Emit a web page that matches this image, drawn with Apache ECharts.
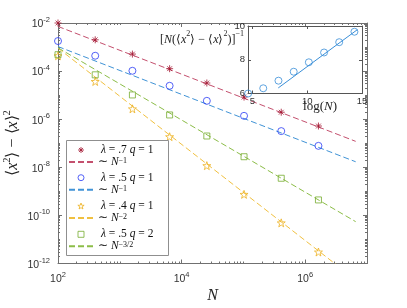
<!DOCTYPE html>
<html><head><meta charset="utf-8">
<script src="https://cdn.jsdelivr.net/npm/echarts@6/dist/echarts.min.js"></script>
<style>html,body{margin:0;padding:0;background:#fff}#c{width:407px;height:308px}</style>
</head><body><div id="c"></div>
<script>
// ---- data ----
const N = [100, 400, 1600, 6400, 25600, 102400, 409600, 1638400];
const varL07q1 = [1.0e-2, 2.0e-3, 5.1e-4, 1.26e-4, 3.2e-5, 8.3e-6, 1.95e-6, 5.2e-7];
const varL05q1 = [1.78e-3, 4.35e-4, 1.03e-4, 2.45e-5, 5.8e-6, 1.38e-6, 3.2e-7, 7.8e-8];
const varL04q1 = [4.35e-4, 3.7e-5, 2.7e-6, 1.87e-7, 1.17e-8, 7.5e-10, 4.9e-11, 3.0e-12];
const varL05q2 = [4.8e-4, 7.0e-5, 1.02e-5, 1.5e-6, 2.0e-7, 2.75e-8, 3.5e-9, 4.4e-10];
const fitN = [100, 6553600];
const fitL07q1 = [7.2e-3, 1.2e-7];
const fitL05q1 = [1.05e-3, 1.7e-8];
const fitL04q1 = [9.0e-4, 2.1e-13];
const fitL05q2 = [9.3e-4, 5.5e-11];
const insetLogN = [4.61, 5.99, 7.38, 8.77, 10.15, 11.54, 12.92, 14.31];
const insetInv = [6.0, 6.31, 6.76, 7.29, 7.85, 8.43, 9.04, 9.66];
const insetFitX = [7.36, 14.57];
const insetFitY = [6.33, 9.78];
const xTickExp = [2, 4, 6];
const yTickExp = [-12, -10, -8, -6, -4, -2];
const insetXTicks = [5, 10, 15];
const insetYTicks = [6, 8, 10];

// ---- styles ----
const AX = '#707070';
const IAX = '#555';
const SERIF = 'Liberation Serif';
const SANS = 'Liberation Sans';
const zip = (a, b) => a.map((v, i) => [v, b[i]]);

const tickRich = {
  b: {fontFamily: SANS, fontSize: 10.5, lineHeight: 14, verticalAlign: 'bottom', color: '#333'},
  s: {fontFamily: SANS, fontSize: 7.5, lineHeight: 8, verticalAlign: 'top', color: '#333'}
};
const expLabel = (list) => (v) => {
  const e = Math.round(Math.log10(v));
  return list.indexOf(e) >= 0 ? '{b|10}{s|' + e + '}' : '';
};
const minorX = [], minorY = [];
for (let d = 2; d <= 6; d++) { for (let k = (d % 2 ? 1 : 2); k <= 9; k++) minorX.push(Math.log10(k) + d); }
for (let d = -12; d <= -3; d++) { for (let k = (d % 2 ? 1 : 2); k <= 9; k++) minorY.push(Math.log10(k) + d); }

const legRich = {
  i: {fontFamily: SERIF, fontStyle: 'italic', fontSize: 11.5, lineHeight: 10, color: '#111'},
  r: {fontFamily: SERIF, fontSize: 11.5, lineHeight: 10, color: '#111'},
  p: {fontFamily: SERIF, fontSize: 11.5, lineHeight: 10, color: '#111', padding: [0, 0, 0, 3]},
  s: {fontFamily: SERIF, fontSize: 8, lineHeight: 5, verticalAlign: 'top', color: '#111'}
};
const legendText = {
  's1': '{p|}{i|λ}{r| = .7 }{i|q}{r| = 1}',
  'f1': '{r|∼ }{i|N}{s|−1}',
  's2': '{p|}{i|λ}{r| = .5 }{i|q}{r| = 1}',
  'f2': '{r|∼ }{i|N}{s|−1}',
  's3': '{p|}{i|λ}{r| = .4 }{i|q}{r| = 1}',
  'f3': '{r|∼ }{i|N}{s|−2}',
  's4': '{p|}{i|λ}{r| = .5 }{i|q}{r| = 2}',
  'f4': '{r|∼ }{i|N}{s|−3/2}'
};
const C = {
  s1: '#a2142f', f1: '#c4506e', s2: '#2a3cf5', f2: '#4093d6',
  s3: '#edb120', f3: '#f0c040', s4: '#77ac30', f4: '#8cbd48'
};
const mkLegend = (sName, fName, top) => ({
  orient: 'vertical', left: 68, top: top, padding: 0, itemGap: 0,
  itemWidth: 24, itemHeight: 6, selectedMode: false, z: 10,
  itemStyle: {borderWidth: 1},
  data: [
    {name: sName, itemStyle: {color: 'rgba(0,0,0,0)', borderColor: C[sName], borderWidth: 1}},
    {name: fName, itemStyle: {opacity: 0}}
  ],
  formatter: (n) => legendText[n],
  textStyle: {rich: legRich, lineHeight: 10}
});

const asterisk = 'path://M5,0L5,10M0,5L10,5M1.6,1.6L8.4,8.4M1.6,8.4L8.4,1.6';
const pentagram = 'path://M10,0L12.35,6.76L19.51,6.91L13.8,11.24L15.88,18.09L10,14L4.12,18.09L6.2,11.24L0.49,6.91L7.65,6.76Z';
const square = 'path://M0,0L10,0L10,10L0,10Z';

const scat = (name, data, symbol, size) => ({
  name, type: 'scatter', xAxisIndex: 0, yAxisIndex: 0, data: zip(N, data),
  symbol, symbolSize: size,
  itemStyle: {color: 'rgba(0,0,0,0)', borderColor: C[name], borderWidth: 1}, z: 4
});
const fit = (name, data) => ({
  name, type: 'line', xAxisIndex: 0, yAxisIndex: 0, data: zip(fitN, data),
  symbol: 'none', lineStyle: {color: C[name], width: 1, type: [6, 3]}, itemStyle: {color: C[name]}, z: 3
});

const option = {
  animation: false,
  backgroundColor: '#fff',
  grid: [
    {left: 58, right: 40, top: 23, bottom: 44.5, show: true, backgroundColor: '#fff', borderWidth: 0},
    {left: 248, right: 45, top: 26, bottom: 214.5, show: true, backgroundColor: '#fff', borderWidth: 0, z: 6}
  ],
  xAxis: [
    {type: 'log', gridIndex: 0, min: 100, max: 1e7, interval: 2, position: 'bottom',
     axisLine: {lineStyle: {color: AX}}, axisTick: {inside: true, length: 4, lineStyle: {color: AX}},
     axisLabel: {formatter: expLabel(xTickExp), rich: tickRich, margin: 7}, splitLine: {show: false}},
    {type: 'log', gridIndex: 0, min: 100, max: 1e7, interval: 2, position: 'top',
     axisLine: {lineStyle: {color: AX}}, axisTick: {inside: true, length: 4, lineStyle: {color: AX}},
     axisLabel: {show: false}, splitLine: {show: false}},
    {type: 'value', gridIndex: 0, min: 2, max: 7, position: 'bottom', axisLine: {show: false},
     axisTick: {inside: true, length: 2, customValues: minorX, lineStyle: {color: AX}},
     axisLabel: {show: false}, splitLine: {show: false}},
    {type: 'value', gridIndex: 0, min: 2, max: 7, position: 'top', axisLine: {show: false},
     axisTick: {inside: true, length: 2, customValues: minorX, lineStyle: {color: AX}},
     axisLabel: {show: false}, splitLine: {show: false}},
    {type: 'value', gridIndex: 1, min: 4.6, max: 15, position: 'bottom', z: 7,
     axisLine: {onZero: false, lineStyle: {color: IAX}},
     axisTick: {inside: true, length: 3, customValues: insetXTicks, lineStyle: {color: IAX}},
     axisLabel: {customValues: insetXTicks, margin: 3, fontFamily: SANS, fontSize: 9.5, color: '#333'},
     splitLine: {show: false}},
    {type: 'value', gridIndex: 1, min: 4.6, max: 15, position: 'top', z: 7,
     axisLine: {onZero: false, lineStyle: {color: IAX}},
     axisTick: {inside: true, length: 3, customValues: insetXTicks, lineStyle: {color: IAX}},
     axisLabel: {show: false}, splitLine: {show: false}}
  ],
  yAxis: [
    {type: 'log', gridIndex: 0, min: 1e-12, max: 1e-2, interval: 2, position: 'left',
     axisLine: {lineStyle: {color: AX}}, axisTick: {inside: true, length: 4, lineStyle: {color: AX}},
     axisLabel: {formatter: expLabel(yTickExp), rich: tickRich, margin: 8}, splitLine: {show: false}},
    {type: 'log', gridIndex: 0, min: 1e-12, max: 1e-2, interval: 2, position: 'right',
     axisLine: {lineStyle: {color: AX}}, axisTick: {inside: true, length: 4, lineStyle: {color: AX}},
     axisLabel: {show: false}, splitLine: {show: false}},
    {type: 'value', gridIndex: 0, min: -12, max: -2, position: 'left', axisLine: {show: false},
     axisTick: {inside: true, length: 2, customValues: minorY, lineStyle: {color: AX}},
     axisLabel: {show: false}, splitLine: {show: false}},
    {type: 'value', gridIndex: 0, min: -12, max: -2, position: 'right', axisLine: {show: false},
     axisTick: {inside: true, length: 2, customValues: minorY, lineStyle: {color: AX}},
     axisLabel: {show: false}, splitLine: {show: false}},
    {type: 'value', gridIndex: 1, min: 6, max: 10, position: 'left', z: 7,
     axisLine: {onZero: false, lineStyle: {color: IAX}},
     axisTick: {inside: true, length: 3, customValues: insetYTicks, lineStyle: {color: IAX}},
     axisLabel: {customValues: insetYTicks, margin: 3, fontFamily: SANS, fontSize: 9.5, color: '#333'},
     splitLine: {show: false}},
    {type: 'value', gridIndex: 1, min: 6, max: 10, position: 'right', z: 7,
     axisLine: {onZero: false, lineStyle: {color: IAX}},
     axisTick: {inside: true, length: 3, customValues: insetYTicks, lineStyle: {color: IAX}},
     axisLabel: {show: false}, splitLine: {show: false}}
  ],
  legend: [
    mkLegend('s1', 'f1', 144),
    mkLegend('s2', 'f2', 171.7),
    mkLegend('s3', 'f3', 200),
    mkLegend('s4', 'f4', 228.3)
  ],
  series: [
    fit('f1', fitL07q1),
    fit('f2', fitL05q1),
    fit('f3', fitL04q1),
    fit('f4', fitL05q2),
    scat('s1', varL07q1, asterisk, 7),
    scat('s2', varL05q1, 'circle', 7),
    scat('s3', varL04q1, pentagram, 8),
    scat('s4', varL05q2, square, 6),
    {name: 'inset', type: 'scatter', xAxisIndex: 4, yAxisIndex: 4, data: zip(insetLogN, insetInv),
     symbol: 'circle', symbolSize: 7, z: 8,
     itemStyle: {color: 'rgba(0,0,0,0)', borderColor: '#3a8fd8', borderWidth: 1}},
    {name: 'insetFit', type: 'line', xAxisIndex: 4, yAxisIndex: 4, data: zip(insetFitX, insetFitY),
     symbol: 'none', z: 8, lineStyle: {color: '#3a8fd8', width: 1}}
  ],
  graphic: [
    {type: 'rect', z: 5, shape: {x: 66.5, y: 140.5, width: 102, height: 115},
     style: {fill: '#fff', stroke: '#8f8f8f', lineWidth: 1}},
    {type: 'text', x: 11, y: 143, rotation: Math.PI / 2, z: 10,
     style: {text: '{m|⟨}{i|x}{s|2}{m|⟩ − ⟨}{i|x}{m|⟩}{s|2}', align: 'center', verticalAlign: 'middle',
       rich: {
         m: {fontFamily: SERIF, fontSize: 16, lineHeight: 19, verticalAlign: 'bottom', fill: '#222'},
         i: {fontFamily: SERIF, fontStyle: 'italic', fontSize: 16, lineHeight: 19, verticalAlign: 'bottom', fill: '#222'},
         s: {fontFamily: SERIF, fontSize: 10.5, lineHeight: 11, verticalAlign: 'top', fill: '#222'}
       }}},
    {type: 'text', x: 212.5, y: 296, z: 10,
     style: {text: 'N', fontFamily: SERIF, fontStyle: 'italic', fontSize: 16, fill: '#222', align: 'center', verticalAlign: 'middle'}},
    {type: 'text', x: 202, y: 38, z: 10,
     style: {text: '{m|[}{i|N}{m|(⟨}{i|x}{s|2}{m|⟩ − ⟨}{i|x}{m|⟩}{s|2}{m|)]}{s|−1}', align: 'center', verticalAlign: 'middle',
       rich: {
         m: {fontFamily: SERIF, fontSize: 12, lineHeight: 16, verticalAlign: 'bottom', fill: '#222'},
         i: {fontFamily: SERIF, fontStyle: 'italic', fontSize: 12, lineHeight: 16, verticalAlign: 'bottom', fill: '#222'},
         s: {fontFamily: SERIF, fontSize: 8, lineHeight: 8, verticalAlign: 'top', fill: '#222'}
       }}},
    {type: 'text', x: 320, y: 107, z: 10,
     style: {text: '{m|log(}{i|N}{m|)}', align: 'center', verticalAlign: 'middle',
       rich: {
         m: {fontFamily: SERIF, fontSize: 13, fill: '#222'},
         i: {fontFamily: SERIF, fontStyle: 'italic', fontSize: 13, fill: '#222'}
       }}}
  ]
};
const chart = echarts.init(document.getElementById('c'), null, {renderer: 'canvas'});
chart.setOption(option);
</script></body></html>
